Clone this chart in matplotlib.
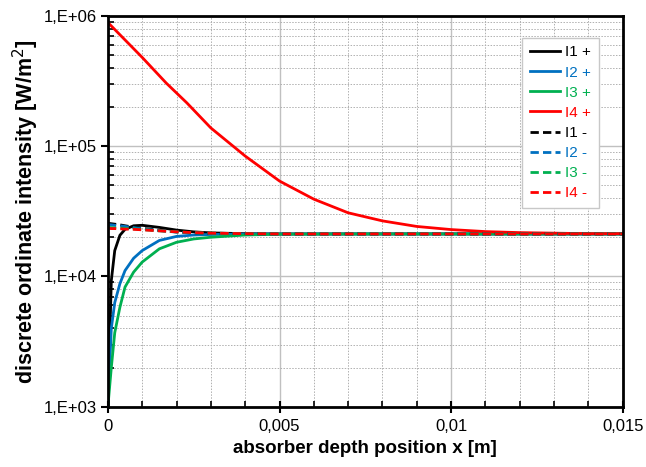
import matplotlib
matplotlib.use("Agg")
import matplotlib.pyplot as plt
from matplotlib.ticker import FixedLocator, FuncFormatter, LogLocator, MultipleLocator, NullFormatter
import numpy as np

plt.rcParams['font.family'] = ['Liberation Sans', 'DejaVu Sans']

# depth positions [m]
x = [0, 0.0001, 0.0002, 0.00035, 0.0005, 0.00075, 0.001, 0.0015, 0.002,
     0.0025, 0.003, 0.004, 0.005, 0.0075, 0.01, 0.0125, 0.015]
x_i4p = [0, 0.001, 0.0017, 0.0023, 0.003, 0.004, 0.005, 0.006, 0.007,
         0.008, 0.009, 0.010, 0.011, 0.012, 0.013, 0.014, 0.015]

# intensities [W/m2]
i1_plus = [1e3, 9.3e3, 1.58e4, 2.07e4, 2.3e4, 2.45e4, 2.47e4, 2.38e4, 2.27e4,
           2.2e4, 2.16e4, 2.13e4, 2.12e4, 2.12e4, 2.12e4, 2.12e4, 2.12e4]
i2_plus = [1e3, 4.0e3, 6.3e3, 8.8e3, 1.11e4, 1.38e4, 1.58e4, 1.89e4, 2.03e4,
           2.08e4, 2.1e4, 2.115e4, 2.12e4, 2.12e4, 2.12e4, 2.12e4, 2.12e4]
i3_plus = [1e3, 2.0e3, 3.7e3, 5.8e3, 8.3e3, 1.08e4, 1.29e4, 1.63e4, 1.83e4,
           1.94e4, 2.0e4, 2.08e4, 2.11e4, 2.12e4, 2.12e4, 2.12e4, 2.12e4]
i4_plus = [8.9e5, 4.8e5, 3.05e5, 2.15e5, 1.38e5, 8.4e4, 5.4e4, 3.92e4, 3.08e4,
           2.67e4, 2.42e4, 2.29e4, 2.21e4, 2.17e4, 2.15e4, 2.13e4, 2.13e4]
i1_minus = [2.56e4, 2.54e4, 2.52e4, 2.49e4, 2.45e4, 2.39e4, 2.34e4, 2.26e4, 2.2e4,
            2.16e4, 2.14e4, 2.13e4, 2.12e4, 2.12e4, 2.12e4, 2.12e4, 2.12e4]
i2_minus = [2.5e4, 2.49e4, 2.47e4, 2.45e4, 2.42e4, 2.37e4, 2.32e4, 2.25e4, 2.19e4,
            2.16e4, 2.14e4, 2.13e4, 2.12e4, 2.12e4, 2.12e4, 2.12e4, 2.12e4]
i3_minus = [2.38e4, 2.37e4, 2.36e4, 2.35e4, 2.34e4, 2.32e4, 2.29e4, 2.24e4, 2.2e4,
            2.17e4, 2.15e4, 2.13e4, 2.12e4, 2.12e4, 2.12e4, 2.12e4, 2.12e4]
i4_minus = [2.34e4, 2.33e4, 2.33e4, 2.32e4, 2.31e4, 2.3e4, 2.28e4, 2.24e4, 2.2e4,
            2.17e4, 2.15e4, 2.13e4, 2.12e4, 2.12e4, 2.12e4, 2.12e4, 2.12e4]

black = "#000000"
blue = "#0070c0"
green = "#00b050"
red = "#ff0000"

fig = plt.figure(figsize=(6.46, 4.67), dpi=100)
ax = fig.add_axes([0.167, 0.129, 0.797, 0.837])

lw = 2.0
ax.plot(x, i1_plus, color=black, lw=lw, label="I1 +")
ax.plot(x, i2_plus, color=blue, lw=lw, label="I2 +")
ax.plot(x, i3_plus, color=green, lw=lw, label="I3 +")
ax.plot(x_i4p, i4_plus, color=red, lw=lw, label="I4 +")
ax.plot(x, i1_minus, color=black, lw=lw, ls=(0, (3, 1.5)), label="I1 -")
ax.plot(x, i2_minus, color=blue, lw=lw, ls=(0, (3, 1.5)), label="I2 -")
ax.plot(x, i3_minus, color=green, lw=lw, ls=(0, (3, 1.5)), label="I3 -")
ax.plot(x, i4_minus, color=red, lw=lw, ls=(0, (3, 1.5)), label="I4 -")

ax.set_yscale("log")
ax.set_xlim(0, 0.015)
ax.set_ylim(1e3, 1e6)

ax.xaxis.set_major_locator(FixedLocator([0, 0.005, 0.01, 0.015]))
ax.xaxis.set_minor_locator(MultipleLocator(0.001))
ax.xaxis.set_major_formatter(FuncFormatter(lambda v, p: ("%g" % round(v, 4)).replace(".", ",")))
ax.yaxis.set_major_locator(LogLocator(base=10, numticks=10))
ax.yaxis.set_minor_locator(LogLocator(base=10, subs=np.arange(2, 10), numticks=10))
ax.yaxis.set_minor_formatter(NullFormatter())
ax.yaxis.set_major_formatter(FuncFormatter(lambda v, p: "1,E+%02d" % round(np.log10(v))))

ax.grid(which="major", color="#c0c0c0", lw=1.0, ls="-")
ax.grid(which="minor", color="#b0b0b0", lw=0.7, ls=(0, (1.5, 1.5)))
ax.set_axisbelow(True)

for s in ax.spines.values():
    s.set_linewidth(2)
ax.tick_params(axis="y", which="major", direction="out", length=5, width=1.5, labelsize=12, pad=3)
ax.tick_params(axis="x", which="major", direction="inout", length=8, width=1.5, labelsize=12, pad=5)
ax.tick_params(which="minor", direction="in", length=4, width=1.2)

ax.set_xlabel("absorber depth position x [m]", fontsize=13.5, fontweight="bold", labelpad=4)
ax.set_ylabel("discrete ordinate intensity [W/m$^2$]", fontsize=15.5, fontweight="bold", labelpad=2)

leg = ax.legend(loc="upper right", bbox_to_anchor=(0.953, 0.944), borderaxespad=0, fontsize=11,
                handlelength=2.0, handletextpad=0.3, labelspacing=0.4,
                fancybox=False, framealpha=1, edgecolor="#c8c8c8", borderpad=0.5)
leg.get_frame().set_linewidth(1.0)
for txt, line in zip(leg.get_texts(), leg.get_lines()):
    txt.set_color(line.get_color())

fig.savefig("out.png", dpi=100)
